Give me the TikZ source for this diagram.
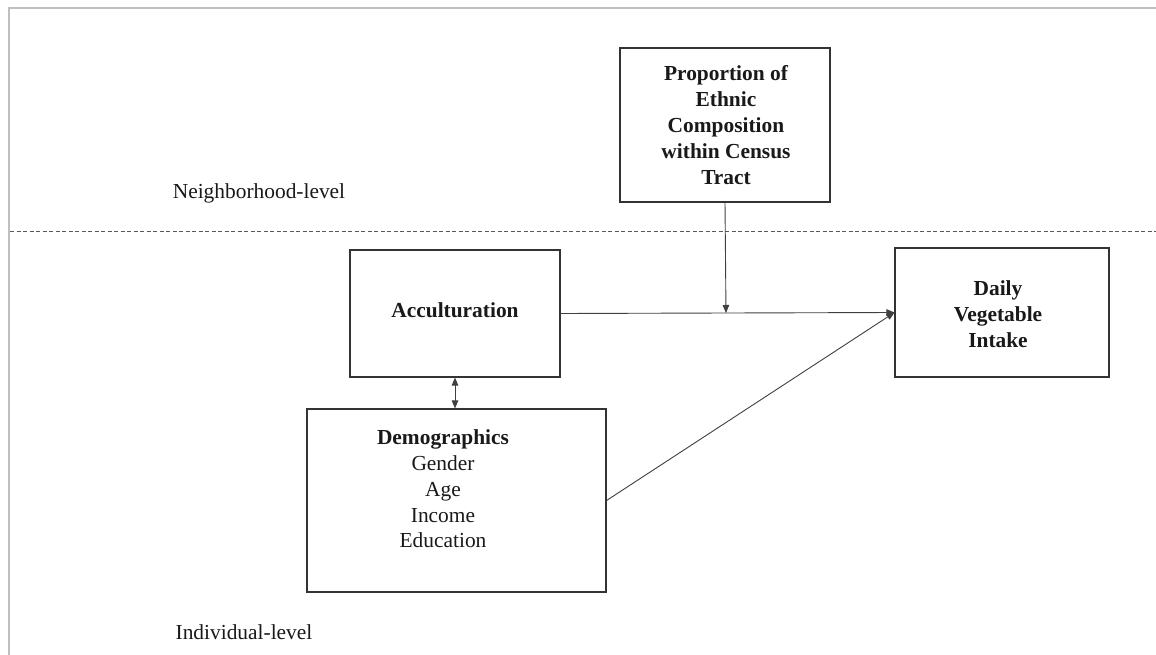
\documentclass[tikz,border=0pt]{standalone}
\usepackage{fontspec}
\setmainfont{Liberation Serif}
\usetikzlibrary{arrows.meta}
\tikzset{
  box/.style={draw=black!80, line width=1.1pt, inner sep=0pt},
  lbl/.style={font=\fontsize{21.4}{25.8}\selectfont, align=center, inner sep=0pt, text=black!90},
  bl/.style={font=\fontsize{21.4}{25.8}\selectfont\bfseries, align=center, inner sep=0pt, text=black!90},
  conn/.style={draw=black!75, line width=0.9pt},
  tip/.style={-{Triangle[length=8pt,width=6.5pt]}},
  dtip/.style={{Triangle[length=8pt,width=6.5pt]}-{Triangle[length=8pt,width=6.5pt]}},
}
\begin{document}
\begin{tikzpicture}[x=1pt,y=-1pt]
\useasboundingbox (0,0) rectangle (1156,655);
\fill[white] (0,0) rectangle (1156,655);
% frame
\draw[black!25, line width=2pt] (9,655) -- (9,8) -- (1156,8);
% level separator
\draw[black!65, line width=0.9pt, dash pattern=on 4pt off 2.5pt] (10,231) -- (1156,231);
\node[lbl] (nl) at (259,193) {Neighborhood-level};
\node[lbl] (il) at (244,632) {Individual-level};
% boxes
\node[box, minimum width=210pt, minimum height=154pt] (prop) at (725,125) {};
\node[bl] (proptext) at (726,125) {Proportion of\\Ethnic\\Composition\\within Census\\Tract};
\node[box, minimum width=210pt, minimum height=127pt] (acc) at (455,313.5) {};
\node[bl] (acctext) at (455,310) {Acculturation};
\node[box, minimum width=299pt, minimum height=183pt] (demo) at (456.5,500.5) {};
\node[lbl] (demotext) at (443,489) {\textbf{Demographics}\\Gender\\Age\\Income\\Education};
\node[box, minimum width=214pt, minimum height=129pt] (daily) at (1002,312.5) {};
\node[bl] (dailytext) at (998,314) {Daily\\Vegetable\\Intake};
% connectors
\coordinate (meet) at (726,313);
\draw[conn, tip] (prop.south) -- (meet);
\draw[conn, tip] (acc.east) -- (daily.west);
\draw[conn, tip] (demo.east) -- (daily.west);
\draw[conn, dtip] (acc.south) -- (acc.south |- demo.north);
\end{tikzpicture}
\end{document}
